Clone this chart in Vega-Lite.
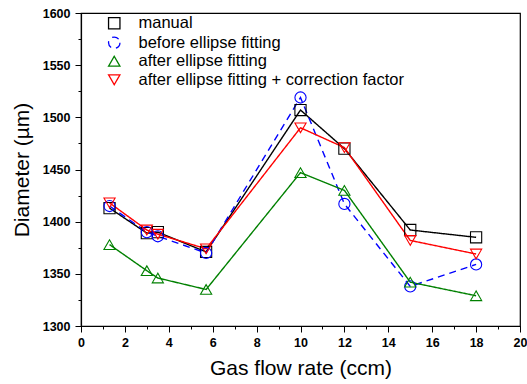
{
  "$schema": "https://vega.github.io/schema/vega-lite/v6.json",
  "width": 439,
  "height": 313,
  "autosize": "none",
  "padding": {"left": 81, "top": 13, "right": 7, "bottom": 58},
  "config": {
    "font": "Liberation Sans",
    "view": {"stroke": "black", "strokeWidth": 1.2},
    "axis": {"grid": false, "domainColor": "black", "tickColor": "black", "labelColor": "black", "titleColor": "black", "labelFont": "Liberation Sans", "titleFont": "Liberation Sans", "labelFontWeight": "bold", "labelFontSize": 12.5, "titleFontSize": 21, "titleFontWeight": "normal", "domainWidth": 1.2, "tickWidth": 1}
  },
  "data": {"values": [
    {"x": 1.3, "d": 1413, "s": "manual"},
    {"x": 3, "d": 1389, "s": "manual"},
    {"x": 3.5, "d": 1390, "s": "manual"},
    {"x": 5.7, "d": 1371, "s": "manual"},
    {"x": 10, "d": 1507, "s": "manual"},
    {"x": 12, "d": 1470, "s": "manual"},
    {"x": 15, "d": 1392, "s": "manual"},
    {"x": 18, "d": 1385, "s": "manual"},
    {"x": 1.3, "d": 1415, "s": "before ellipse fitting"},
    {"x": 3, "d": 1390, "s": "before ellipse fitting"},
    {"x": 3.5, "d": 1386, "s": "before ellipse fitting"},
    {"x": 5.7, "d": 1370, "s": "before ellipse fitting"},
    {"x": 10, "d": 1519, "s": "before ellipse fitting"},
    {"x": 12, "d": 1417, "s": "before ellipse fitting"},
    {"x": 15, "d": 1338, "s": "before ellipse fitting"},
    {"x": 18, "d": 1359, "s": "before ellipse fitting"},
    {"x": 1.3, "d": 1378, "s": "after ellipse fitting"},
    {"x": 3, "d": 1353, "s": "after ellipse fitting"},
    {"x": 3.5, "d": 1346, "s": "after ellipse fitting"},
    {"x": 5.7, "d": 1335, "s": "after ellipse fitting"},
    {"x": 10, "d": 1447, "s": "after ellipse fitting"},
    {"x": 12, "d": 1430, "s": "after ellipse fitting"},
    {"x": 15, "d": 1342, "s": "after ellipse fitting"},
    {"x": 18, "d": 1329, "s": "after ellipse fitting"},
    {"x": 1.3, "d": 1418, "s": "after ellipse fitting + correction factor"},
    {"x": 3, "d": 1392, "s": "after ellipse fitting + correction factor"},
    {"x": 3.5, "d": 1388, "s": "after ellipse fitting + correction factor"},
    {"x": 5.7, "d": 1374, "s": "after ellipse fitting + correction factor"},
    {"x": 10, "d": 1490, "s": "after ellipse fitting + correction factor"},
    {"x": 12, "d": 1471, "s": "after ellipse fitting + correction factor"},
    {"x": 15, "d": 1382, "s": "after ellipse fitting + correction factor"},
    {"x": 18, "d": 1369, "s": "after ellipse fitting + correction factor"}
  ]},
  "encoding": {
    "x": {"field": "x", "type": "quantitative", "scale": {"domain": [0, 20], "nice": false},
      "axis": {"title": "Gas flow rate (ccm)", "values": [0,1,2,3,4,5,6,7,8,9,10,11,12,13,14,15,16,17,18,19,20], "labelExpr": "datum.value % 2 == 0 ? datum.label : ''", "tickSize": {"condition": {"test": "datum.value % 2 == 0", "value": 6}, "value": 3}, "labelPadding": 4, "titlePadding": 9, "labelFlush": false}},
    "y": {"field": "d", "type": "quantitative", "scale": {"domain": [1300, 1600], "nice": false, "zero": false},
      "axis": {"title": "Diameter (µm)", "values": [1300,1325,1350,1375,1400,1425,1450,1475,1500,1525,1550,1575,1600], "labelExpr": "datum.value % 50 == 0 ? datum.label : ''", "tickSize": {"condition": {"test": "datum.value % 50 == 0", "value": 6}, "value": 3}, "labelPadding": 5, "titlePadding": 10, "format": "d", "labelFlush": false}},
    "color": {"field": "s", "type": "nominal", "scale": {"domain": ["manual", "before ellipse fitting", "after ellipse fitting", "after ellipse fitting + correction factor"], "range": ["#000000", "#0000ff", "#008000", "#ff0000"]},
      "legend": {"title": null, "orient": "none", "legendX": 25, "legendY": 2, "labelFontSize": 16.5, "labelFont": "Liberation Sans", "labelColor": "black", "symbolSize": 130, "rowPadding": 1.5, "labelOffset": 16, "symbolStrokeWidth": 1.3, "labelLimit": 400}}
  },
  "layer": [
    {
      "mark": {"type": "line", "strokeWidth": 1.4},
      "encoding": {
        "strokeDash": {"field": "s", "type": "nominal", "legend": null, "scale": {"domain": ["manual", "before ellipse fitting", "after ellipse fitting", "after ellipse fitting + correction factor"], "range": [[1, 0], [7, 5], [1, 0], [1, 0]]}}
      }
    },
    {
      "mark": {"type": "point", "filled": false, "size": 125, "strokeWidth": 1.1, "opacity": 1},
      "encoding": {
        "shape": {"field": "s", "type": "nominal", "legend": null, "scale": {"domain": ["manual", "before ellipse fitting", "after ellipse fitting", "after ellipse fitting + correction factor"], "range": ["square", "circle", "triangle-up", "triangle-down"]}}
      }
    }
  ]
}
